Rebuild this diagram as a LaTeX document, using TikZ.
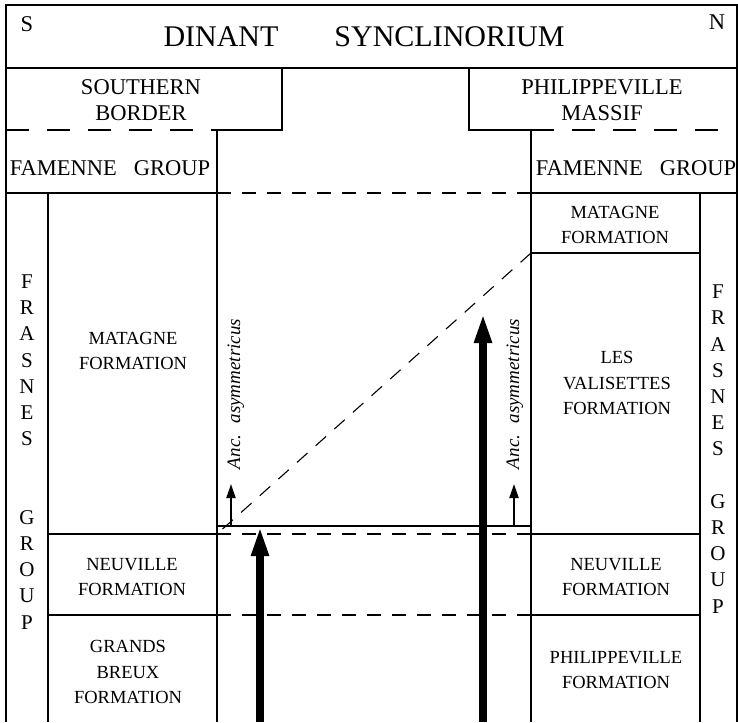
\documentclass[tikz,border=0pt]{standalone}
\usepackage{fontspec}
\setmainfont{Liberation Serif}
\usetikzlibrary{arrows.meta}

\tikzset{
  rock/.style={font=\fontsize{18.5}{25.5}\selectfont, align=center, inner sep=0pt},
  head/.style={font=\fontsize{22.5}{26}\selectfont, align=center, inner sep=0pt},
  column/.style={font=\fontsize{21}{26.2}\selectfont, align=center, inner sep=0pt},
  contact/.style={dash pattern=on 14pt off 11pt},
  longcontact/.style={dash pattern=on 23pt off 18pt},
  fossil/.style={font=\itshape\fontsize{19}{19}\selectfont, rotate=90, inner sep=0pt},
  lineage/.style={line width=8.5pt, -{Triangle[length=30pt,width=16pt]}},
  marker/.style={line width=2pt, -{Triangle[length=14pt,width=9pt]}},
}

\begin{document}
\begin{tikzpicture}[x=1pt,y=-1pt,line width=1.1pt]
  \useasboundingbox (0,0) rectangle (738,722);
  % frame and heading
  \draw (6,722) -- (6,5) -- (737,5) -- (737,722);
  \draw (6,68) -- (737,68);
  \node (south) at (27,24) [head] {S};
  \node (north) at (717,22) [head] {N};
  \node (title) at (364,37) [font=\fontsize{30}{30}\selectfont] {DINANT\hspace{56pt}SYNCLINORIUM};

  % structural units
  \draw (217,130) -- (282,130) -- (282,68);
  \draw (469,68) -- (469,130) -- (531,130);
  \draw[longcontact] (6,130) -- (217,130);
  \draw[longcontact] (531,130) -- (737,130);
  \node (border) at (141,100) [head] {SOUTHERN\\BORDER};
  \node (massif) at (602,100) [head] {PHILIPPEVILLE\\MASSIF};

  % columns
  \draw (217,130) -- (217,722);
  \draw (531,130) -- (531,722);
  \draw (48,193) -- (48,722);
  \draw (700,193) -- (700,722);
  \draw (6,193) -- (217,193);
  \draw (531,193) -- (737,193);
  \draw[contact] (217,193) -- (531,193);
  \node (famS) at (110,168) [head] {FAMENNE\hspace{0.75em}GROUP};
  \node (famN) at (636,168) [head] {FAMENNE\hspace{0.75em}GROUP};

  % southern border
  \draw (48,534) -- (217,534);
  \draw (48,615) -- (217,615);
  \node (matS) at (133,351) [rock] {MATAGNE\\FORMATION};
  \node (neuS) at (132,577) [rock] {NEUVILLE\\FORMATION};
  \node (breux) at (128,672) [rock] {GRANDS\\BREUX\\FORMATION};
  \node (frasS) at (27,452) [column] {F\\R\\A\\S\\N\\E\\S\\[52.4pt]G\\R\\O\\U\\P};

  % philippeville massif
  \draw (531,253) -- (700,253);
  \draw (531,534) -- (700,534);
  \draw (531,615) -- (700,615);
  \node (matN) at (615,225) [rock] {MATAGNE\\FORMATION};
  \node (valis) at (617,383) [rock] {LES\\VALISETTES\\FORMATION};
  \node (neuN) at (616,577) [rock] {NEUVILLE\\FORMATION};
  \node (phil) at (616,670) [rock] {PHILIPPEVILLE\\FORMATION};
  \node (frasN) at (718,449) [column] {F\\R\\A\\S\\N\\E\\S\\[26.2pt]G\\R\\O\\U\\P};

  % correlation between both sides
  \draw (217,526) -- (531,526);
  \draw[contact] (217,534) -- (531,534);
  \draw[contact] (217,615) -- (531,615);
  \draw[contact] (531,253) -- (217,534);

  % first occurrences and ranges
  \draw[marker] (231,526) -- (231,484);
  \draw[marker] (514,526) -- (514,484);
  \node (ancS) at (236,394) [fossil] {Anc.\hspace{0.6em}asymmetricus};
  \node (ancN) at (515,394) [fossil] {Anc.\hspace{0.6em}asymmetricus};
  \draw[lineage] (260,722) -- (260,526);
  \draw[lineage] (483,722) -- (483,313);
\end{tikzpicture}
\end{document}
